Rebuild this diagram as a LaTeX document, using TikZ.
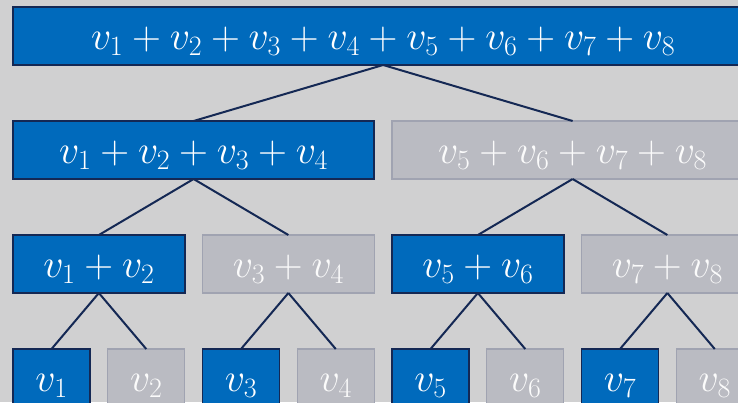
\RequirePackage{fix-cm}
\documentclass[tikz,border=0pt]{standalone}
\usepackage{amsmath}
\usepackage{tikz}
\tikzstyle{tree} = [x = 1pt, y = -1pt]
\definecolor{backColor}{RGB}{208,208,209}
\definecolor{sumBlue}{RGB}{0,106,188}
\definecolor{edgeColor}{RGB}{20,40,84}
\definecolor{idleFill}{RGB}{186,187,194}
\definecolor{idleBorder}{RGB}{160,163,177}
\tikzstyle{sumText} = [font=\fontsize{40}{42}\selectfont, inner sep = 0pt, outer sep = 0pt,
  text height = 30pt, text depth = 3pt, anchor = north west]
\tikzstyle{activeSum} = [sumText, draw=edgeColor, fill=sumBlue, text=white, line width=1.8pt]
\tikzstyle{idleSum} = [sumText, draw=idleBorder, fill=idleFill, text=white!94!idleFill, line width=1.3pt]
\tikzstyle{treeEdge} = [draw=edgeColor, line width=2pt]
\newcommand{\pitch}{94.75}
\newcommand{\boxHeight}{58}
% #1 style, #2 name, #3 first leaf, #4 leaf count, #5 row, #6 text
\newcommand{\sumNode}[6]{
  \pgfmathsetmacro{\boxX}{13 + \pitch * #3}
  \pgfmathsetmacro{\boxY}{7 + 114 * #5}
  \pgfmathsetmacro{\boxW}{\pitch * (#4 - 1) + 77}
  \node [#1, minimum width = \boxW pt, minimum height = \boxHeight pt] (#2) at (\boxX, \boxY) {$#6$};
}
\begin{document}
\begin{tikzpicture}[tree]
  \useasboundingbox (0,0) rectangle (738,402);
  \fill [backColor] (0,0) rectangle (738,402);
  \begin{scope}
    \clip (0,0) rectangle (738,402);
    % root
    \sumNode{activeSum}{s18}{0}{8}{0}{v_1 + v_2 + v_3 + v_4 + v_5 + v_6 + v_7 + v_8}
    % halves
    \sumNode{activeSum}{s14}{0}{4}{1}{v_1 + v_2 + v_3 + v_4}
    \sumNode{idleSum}{s58}{4}{4}{1}{v_5 + v_6 + v_7 + v_8}
    % pairs
    \sumNode{activeSum}{s12}{0}{2}{2}{v_1 + v_2}
    \sumNode{idleSum}{s34}{2}{2}{2}{v_3 + v_4}
    \sumNode{activeSum}{s56}{4}{2}{2}{v_5 + v_6}
    \sumNode{idleSum}{s78}{6}{2}{2}{v_7 + v_8}
    % leaves
    \foreach \leaf in {1,...,8} {
      \pgfmathsetmacro{\first}{\leaf - 1}
      \ifodd \leaf
        \sumNode{activeSum}{s\leaf}{\first}{1}{3}{v_{\leaf}}
      \else
        \sumNode{idleSum}{s\leaf}{\first}{1}{3}{v_{\leaf}}
      \fi
    }
    \foreach \parent/\child in {s18/s14, s18/s58, s14/s12, s14/s34, s58/s56, s58/s78,
                                s12/s1, s12/s2, s34/s3, s34/s4, s56/s5, s56/s6, s78/s7, s78/s8}
      \draw [treeEdge] (\parent.south) -- (\child.north);
  \end{scope}
\end{tikzpicture}
\end{document}
